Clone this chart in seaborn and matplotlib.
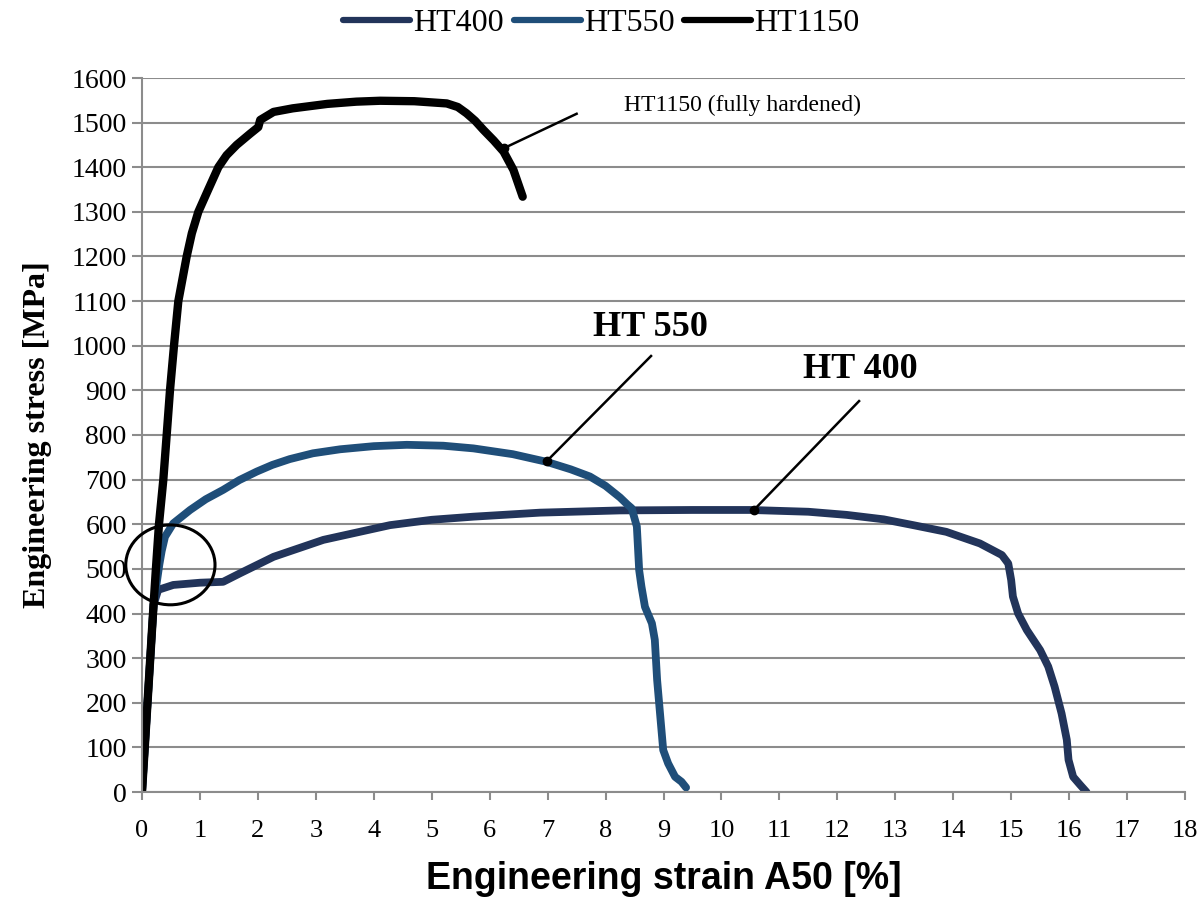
import numpy as np
import pandas as pd
import matplotlib
matplotlib.use("Agg")
import matplotlib.pyplot as plt
from matplotlib.patches import Ellipse
from matplotlib.lines import Line2D
from matplotlib import font_manager
import seaborn as sns

# ---------------- data ----------------
series_names = ["HT400", "HT550", "HT1150"]

ht400_strain = [0, 0.2, 0.28, 0.54, 1.0, 1.40, 1.69, 2.27, 3.13, 4.28, 5.0, 5.72, 6.87, 8.25,
                9.5, 10.5, 11.5, 12.16, 12.8, 13.31, 13.88, 14.46, 14.84, 14.95, 15.0, 15.03,
                15.12, 15.27, 15.50, 15.64, 15.75, 15.87, 15.96, 15.99, 16.07, 16.19, 16.30]
ht400_stress = [0, 420, 453, 464, 469, 471, 490, 527, 565, 598, 610, 617, 626, 631,
                632, 632, 628, 621, 611, 598, 583, 557, 531, 512, 475, 438,
                400, 363, 318, 281, 236, 176, 117, 72, 34, 16, 0]

ht550_strain = [0, 0.2, 0.30, 0.34, 0.397, 0.54, 0.83, 1.10, 1.40, 1.68, 1.98, 2.25, 2.55, 2.95,
                3.42, 4.0, 4.57, 5.2, 5.72, 6.4, 6.98, 7.4, 7.73, 8.0, 8.25, 8.37, 8.45, 8.54,
                8.58, 8.62, 8.68, 8.80, 8.85, 8.89, 8.94, 8.995, 9.08, 9.20, 9.31, 9.39]
ht550_stress = [0, 420, 510, 540, 572, 602, 632, 656, 677, 699, 718, 733, 746, 759,
                768, 775, 778, 776, 770, 757, 740, 723, 707, 686, 660, 645, 636, 595,
                497, 460, 415, 378, 341, 251, 176, 94, 64, 34, 23, 10]

ht1150_strain = [0, 0.19, 0.24, 0.293, 0.368, 0.426, 0.483, 0.552, 0.627, 0.771, 0.86, 0.972,
                 1.14, 1.317, 1.46, 1.634, 1.864, 2.007, 2.04, 2.27, 2.6, 3.2, 3.7, 4.11, 4.7,
                 5.26, 5.45, 5.60, 5.75, 5.89, 6.07, 6.24, 6.41, 6.57]
ht1150_stress = [0, 400, 500, 600, 700, 800, 900, 1000, 1100, 1200, 1252, 1300,
                 1349, 1400, 1427, 1450, 1475, 1490, 1506, 1524, 1532, 1542, 1547, 1549, 1548,
                 1543, 1535, 1521, 1504, 1484, 1460, 1435, 1394, 1334]

x_ticks = list(range(0, 19))
y_ticks = list(range(0, 1700, 100))

ann_texts = ["HT1150 (fully hardened)", "HT 550", "HT 400"]

# ---------------- build frame ----------------
frames = []
for name, xs, ys in [("HT400", ht400_strain, ht400_stress),
                     ("HT550", ht550_strain, ht550_stress),
                     ("HT1150", ht1150_strain, ht1150_stress)]:
    frames.append(pd.DataFrame({"strain": xs, "stress": ys, "series": name}))
df = pd.concat(frames, ignore_index=True)

# ---------------- style ----------------
sns.set_style("white")
serif = "Liberation Serif"
available = {f.name for f in font_manager.fontManager.ttflist}
narrow = "Liberation Sans Narrow" if "Liberation Sans Narrow" in available else "Liberation Sans"
plt.rcParams["font.family"] = [serif, "DejaVu Sans"]
plt.rcParams["text.color"] = "black"
plt.rcParams["axes.labelcolor"] = "black"
plt.rcParams["xtick.color"] = "black"
plt.rcParams["ytick.color"] = "black"

palette = {"HT400": "#22345A", "HT550": "#1F4E79", "HT1150": "#000000"}
grid_col = "#8C8C8C"

fig = plt.figure(figsize=(12.03, 8.97), dpi=100)
ax = fig.add_axes([142 / 1203, 1 - 792 / 897, (1185 - 142) / 1203, (792 - 78) / 897])

sns.lineplot(data=df, x="strain", y="stress", hue="series", hue_order=series_names,
             palette=palette, sort=False, estimator=None, units="series", ax=ax,
             linewidth=5.6, legend=False)
for ln, name in zip(ax.get_lines(), series_names):
    ln.set_solid_capstyle("round")
    ln.set_solid_joinstyle("round")
    if name == "HT1150":
        ln.set_linewidth(6.0)

ax.set_xlim(0, 18)
ax.set_ylim(0, 1600)
ax.set_xticks(x_ticks)
ax.set_yticks(y_ticks)
ax.set_xticklabels([str(t) for t in x_ticks], fontsize=19, family=serif, color="black")
ax.set_yticklabels([str(t) for t in y_ticks], fontsize=20, family=serif, color="black")

ax.grid(axis="y", color=grid_col, linewidth=1.5)
ax.grid(axis="x", visible=False)
ax.set_axisbelow(True)
for s in ["top", "right"]:
    ax.spines[s].set_visible(False)
for s in ["left", "bottom"]:
    ax.spines[s].set_color(grid_col)
    ax.spines[s].set_linewidth(1.5)
ax.tick_params(axis="y", direction="out", length=7, width=1.5, color=grid_col, pad=4,
               left=True, labelcolor="black")
ax.tick_params(axis="x", direction="out", length=6, width=1.5, color=grid_col, pad=14,
               bottom=True, labelcolor="black")

ax.set_xlabel("Engineering strain A50 [%]", fontsize=27, fontweight="bold",
              family=[narrow, "DejaVu Sans"], labelpad=14, color="black")
ax.set_ylabel("Engineering stress [MPa]", fontsize=23, fontweight="bold",
              family=serif, labelpad=14, color="black")

# legend
handles = [Line2D([0], [0], color=palette[n], lw=4.5, solid_capstyle="round") for n in series_names]
fig.legend(handles, series_names, loc="upper center", bbox_to_anchor=(0.5, 1.022), ncol=3,
           frameon=False, handlelength=2.1, handletextpad=0.1,
           columnspacing=0.3, prop={"family": serif, "size": 23})

# annotations: (text, text position, leader start, leader end/dot, font size, weight)
ann_specs = [
    (ann_texts[0], (10.37, 1538), (7.52, 1521), (6.25, 1443), 17, "normal"),
    (ann_texts[1], (8.77, 1042), (8.80, 979), (6.99, 742), 26, "bold"),
    (ann_texts[2], (12.39, 946), (12.39, 878), (10.56, 632), 26, "bold"),
]
for txt, tpos, p0, p1, fs, fw in ann_specs:
    ax.text(tpos[0], tpos[1], txt, ha="center", va="center", fontsize=fs, fontweight=fw,
            family=serif, color="black")
    ax.plot([p0[0], p1[0]], [p0[1], p1[1]], color="black", lw=1.8, solid_capstyle="butt")
    ax.plot([p1[0]], [p1[1]], marker="o", color="black", markersize=6)

# circle around yield region
ell = Ellipse((0.49, 509), width=1.54, height=179, fill=False, edgecolor="black",
              linewidth=2.2, clip_on=False, zorder=5)
ax.add_patch(ell)

fig.savefig("out.png", dpi=100)
